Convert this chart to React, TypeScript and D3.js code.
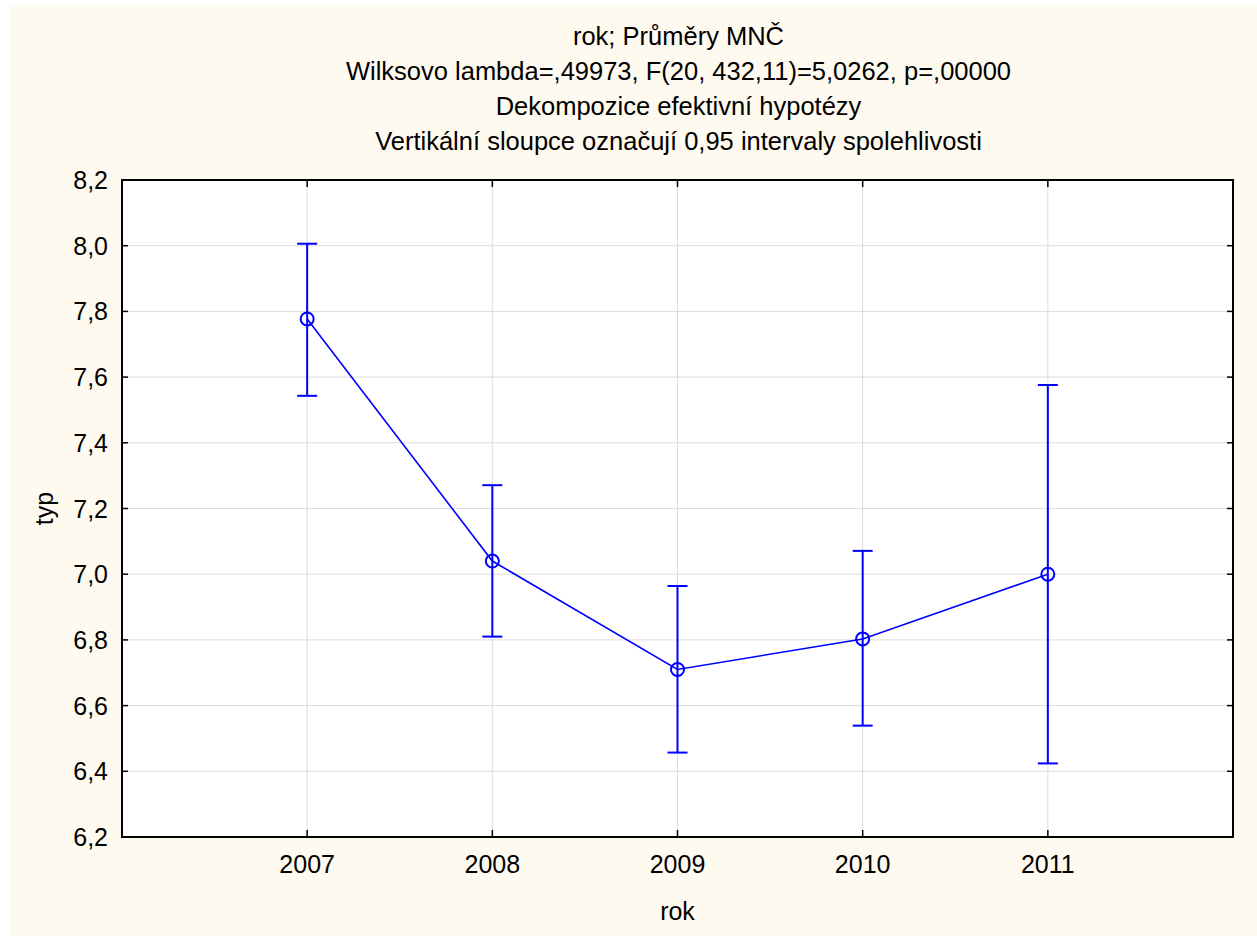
import React from 'react';
import * as d3 from 'd3';

const years = [2007, 2008, 2009, 2010, 2011];
const means = [7.777, 7.04, 6.71, 6.803, 7.0];
const upper = [8.006, 7.271, 6.964, 7.071, 7.576];
const lower = [7.543, 6.81, 6.457, 6.539, 6.424];
const yTicks = [6.2, 6.4, 6.6, 6.8, 7.0, 7.2, 7.4, 7.6, 7.8, 8.0, 8.2];
const titleLines = [
  'rok; Průměry MNČ',
  'Wilksovo lambda=,49973, F(20, 432,11)=5,0262, p=,00000',
  'Dekompozice efektivní hypotézy',
  'Vertikální sloupce označují 0,95 intervaly spolehlivosti',
];

const W = 1257;
const H = 936;
const plot = { left: 122, top: 180, right: 1233, bottom: 837 };
const FONT = 'Liberation Sans, Arial, sans-serif';
const BLUE = '#0000ff';

const App: React.FC = () => {
  const x = d3.scaleLinear().domain([2006, 2012]).range([plot.left, plot.right]);
  const y = d3.scaleLinear().domain([6.2, 8.2]).range([plot.bottom, plot.top]);
  const fmt = (v: number) => v.toFixed(1).replace('.', ',');

  const line = d3
    .line<number>()
    .x((_, i) => x(years[i]))
    .y((d) => y(d));

  return (
    <svg
      width={W}
      height={H}
      style={{ position: 'absolute', left: 0, top: 0 }}
      fontFamily={FONT}
    >
      <rect x={0} y={0} width={W} height={H} fill="#ffffff" />
      <rect x={10} y={5} width={W - 10} height={H - 5} fill="#fefaf0" />

      {/* title */}
      <g textAnchor="middle" fontSize={25.5} fill="#000">
        {titleLines.map((t, i) => (
          <text key={i} x={(plot.left + plot.right) / 2 + 1} y={45 + i * 35}>
            {t}
          </text>
        ))}
      </g>

      {/* plot background */}
      <rect
        x={plot.left}
        y={plot.top}
        width={plot.right - plot.left}
        height={plot.bottom - plot.top}
        fill="#ffffff"
      />

      {/* grid */}
      <g stroke="#dcdcdc" strokeWidth={1}>
        {yTicks.slice(1, -1).map((t) => (
          <line key={t} x1={plot.left} x2={plot.right} y1={y(t)} y2={y(t)} />
        ))}
        {years.map((yr) => (
          <line key={yr} x1={x(yr)} x2={x(yr)} y1={plot.top} y2={plot.bottom} />
        ))}
      </g>

      {/* ticks */}
      <g stroke="#000" strokeWidth={1.5}>
        {yTicks.map((t) => (
          <g key={t}>
            <line x1={plot.left} x2={plot.left + 6} y1={y(t)} y2={y(t)} />
            <line x1={plot.right} x2={plot.right - 6} y1={y(t)} y2={y(t)} />
          </g>
        ))}
        {years.map((yr) => (
          <g key={yr}>
            <line x1={x(yr)} x2={x(yr)} y1={plot.bottom} y2={plot.bottom - 7} />
            <line x1={x(yr)} x2={x(yr)} y1={plot.top} y2={plot.top + 7} />
          </g>
        ))}
      </g>

      {/* border */}
      <rect
        x={plot.left}
        y={plot.top}
        width={plot.right - plot.left}
        height={plot.bottom - plot.top}
        fill="none"
        stroke="#000"
        strokeWidth={2}
      />

      {/* tick labels */}
      <g fontSize={25} fill="#000">
        {yTicks.map((t) => (
          <text key={t} x={108} y={y(t)} dy="0.36em" textAnchor="end">
            {fmt(t)}
          </text>
        ))}
        {years.map((yr) => (
          <text key={yr} x={x(yr)} y={873} textAnchor="middle">
            {yr}
          </text>
        ))}
      </g>

      {/* axis titles */}
      <text x={(plot.left + plot.right) / 2} y={920} textAnchor="middle" fontSize={25}>
        rok
      </text>
      <text
        transform={`translate(53,${(plot.top + plot.bottom) / 2}) rotate(-90)`}
        textAnchor="middle"
        fontSize={25}
      >
        typ
      </text>

      {/* error bars */}
      <g stroke={BLUE} strokeWidth={2} fill="none">
        {years.map((yr, i) => (
          <g key={yr}>
            <line x1={x(yr)} x2={x(yr)} y1={y(upper[i])} y2={y(lower[i])} />
            <line x1={x(yr) - 10} x2={x(yr) + 10} y1={y(upper[i])} y2={y(upper[i])} />
            <line x1={x(yr) - 10} x2={x(yr) + 10} y1={y(lower[i])} y2={y(lower[i])} />
          </g>
        ))}
      </g>

      {/* mean line + markers */}
      <path d={line(means) || undefined} fill="none" stroke={BLUE} strokeWidth={1.6} />
      <g fill="none" stroke={BLUE} strokeWidth={2}>
        {years.map((yr, i) => (
          <circle key={yr} cx={x(yr)} cy={y(means[i])} r={6.5} />
        ))}
      </g>
    </svg>
  );
};

export default App;
